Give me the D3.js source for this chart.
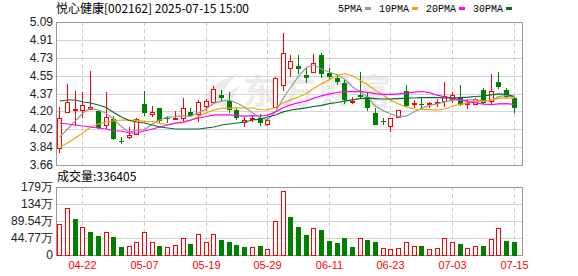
<!DOCTYPE html>
<html lang="zh">
<head>
<meta charset="UTF-8"/>
<title>悦心健康 日K线</title>
<script src="https://d3js.org/d3.v7.min.js"></script>
<style>
	body { margin:0; background:#fff; }
	svg text { font-family:"Liberation Sans", Arial, sans-serif; }
</style>
</head>
<body>
<script>
// ---------------- data ----------------
var dates = ["04-17","04-18","04-21","04-22","04-23","04-24","04-25","04-28","04-29","04-30",
	"05-06","05-07","05-08","05-09","05-12","05-13","05-14","05-15","05-16","05-19",
	"05-20","05-21","05-22","05-23","05-26","05-27","05-28","05-29","05-30","06-03",
	"06-04","06-05","06-06","06-09","06-10","06-11","06-12","06-13","06-16","06-17",
	"06-18","06-19","06-20","06-23","06-24","06-25","06-26","06-27","06-30","07-01",
	"07-02","07-03","07-04","07-07","07-08","07-09","07-10","07-11","07-14","07-15"];

var opens = [3.83,4.19,4.21,4.21,4.22,4.20,4.06,4.12,3.90,3.94,
	3.97,4.27,4.17,4.23,4.13,4.12,4.13,4.19,4.17,4.25,
	4.29,4.36,4.30,4.21,4.09,4.12,4.13,4.07,4.24,4.46,
	4.63,4.65,4.56,4.59,4.76,4.58,4.53,4.48,4.29,4.36,
	4.34,4.18,4.10,4.05,4.14,4.40,4.27,4.27,4.27,4.28,
	4.30,4.32,4.34,4.27,4.27,4.41,4.30,4.49,4.41,4.33];
var highs = [4.24,4.47,4.40,4.39,4.60,4.21,4.39,4.15,3.94,4.04,
	4.13,4.40,4.25,4.23,4.15,4.20,4.33,4.23,4.31,4.32,
	4.45,4.41,4.39,4.23,4.14,4.16,4.17,4.13,4.54,4.98,
	4.76,4.76,4.64,4.77,4.78,4.63,4.57,4.51,4.34,4.59,
	4.39,4.23,4.13,4.13,4.21,4.46,4.31,4.33,4.29,4.32,
	4.49,4.39,4.46,4.32,4.33,4.43,4.57,4.59,4.43,4.34];
var lows = [3.78,4.19,4.05,4.13,4.22,4.02,4.02,3.91,3.87,3.92,
	3.96,4.15,4.14,4.08,4.08,4.11,4.09,4.14,4.09,4.20,
	4.29,4.29,4.18,4.11,4.04,4.09,4.05,4.05,4.24,4.40,
	4.54,4.57,4.48,4.59,4.53,4.51,4.46,4.27,4.27,4.32,
	4.20,4.06,4.06,3.99,4.14,4.24,4.23,4.22,4.23,4.24,
	4.24,4.28,4.25,4.22,4.26,4.27,4.27,4.42,4.33,4.18];
var closes = [4.13,4.29,4.22,4.26,4.24,4.03,4.14,3.92,3.89,3.96,
	4.12,4.18,4.19,4.10,4.12,4.13,4.23,4.15,4.29,4.30,
	4.42,4.33,4.21,4.13,4.11,4.13,4.08,4.11,4.53,4.78,
	4.70,4.62,4.53,4.68,4.57,4.54,4.49,4.31,4.30,4.34,
	4.23,4.06,4.09,4.13,4.21,4.25,4.28,4.26,4.28,4.29,
	4.35,4.36,4.26,4.28,4.32,4.28,4.40,4.44,4.34,4.23];

// volume in 万手
var volumes = [80.8,122.9,94.8,72.9,60.6,50.0,59.7,47.4,21.1,23.7,
	33.4,59.7,33.4,23.7,20.2,25.5,43.9,29.0,54.4,33.4,
	54.4,39.5,34.2,26.3,21.9,20.2,23.7,14.9,88.7,167.7,
	100.0,73.7,52.7,71.1,65.8,36.9,31.6,44.8,21.9,43.9,
	39.5,34.2,17.6,15.8,17.6,33.4,23.7,23.7,14.9,17.6,
	43.9,33.4,29.0,17.6,23.7,23.7,41.3,70.2,36.9,33.6405];

var ma5 = [3.94,4.02,4.10,4.18,4.228,4.208,4.178,4.118,4.044,3.988,
	4.006,4.014,4.068,4.110,4.142,4.144,4.154,4.146,4.184,4.220,
	4.278,4.298,4.310,4.278,4.240,4.182,4.132,4.112,4.192,4.326,
	4.440,4.548,4.632,4.662,4.620,4.588,4.562,4.518,4.442,4.396,
	4.334,4.248,4.204,4.170,4.144,4.148,4.192,4.226,4.256,4.272,
	4.292,4.308,4.308,4.308,4.314,4.300,4.308,4.344,4.356,4.338];
var ma10 = [3.84,3.88,3.93,3.98,4.04,4.07,4.09,4.10,4.11,4.108,
	4.107,4.096,4.093,4.077,4.065,4.075,4.084,4.107,4.147,4.181,
	4.211,4.226,4.228,4.231,4.230,4.230,4.215,4.211,4.235,4.283,
	4.311,4.340,4.372,4.427,4.473,4.514,4.555,4.575,4.552,4.508,
	4.461,4.405,4.361,4.306,4.270,4.241,4.220,4.215,4.213,4.208,
	4.220,4.250,4.267,4.282,4.293,4.296,4.308,4.326,4.332,4.326];
var ma20 = [4.08,4.07,4.06,4.05,4.04,4.03,4.02,4.00,4.00,3.98,
	3.98,4.00,4.02,4.04,4.06,4.08,4.09,4.11,4.13,4.145,
	4.159,4.161,4.161,4.154,4.148,4.153,4.150,4.159,4.191,4.232,
	4.261,4.283,4.300,4.329,4.352,4.372,4.385,4.393,4.394,4.396,
	4.386,4.373,4.367,4.367,4.372,4.378,4.388,4.395,4.383,4.358,
	4.341,4.328,4.314,4.294,4.282,4.269,4.264,4.271,4.273,4.267];
var ma30 = [4.30,4.31,4.31,4.29,4.28,4.26,4.235,4.185,4.14,4.105,
	4.09,4.08,4.06,4.04,4.03,4.02,4.02,4.02,4.02,4.03,
	4.04,4.06,4.07,4.08,4.09,4.11,4.12,4.14,4.16,4.191,
	4.210,4.221,4.231,4.245,4.256,4.273,4.285,4.298,4.311,4.324,
	4.328,4.324,4.320,4.321,4.324,4.328,4.330,4.334,4.333,4.333,
	4.331,4.332,4.333,4.338,4.345,4.350,4.361,4.372,4.366,4.347];

var priceLabels = ["3.66","3.84","4.02","4.20","4.37","4.55","4.73","4.91","5.09"];
var volLabels = ["0","44.77万","89.54万","134万","179万"];
var dateTicks = ["04-22","05-07","05-19","05-29","06-11","06-23","07-03","07-15"];
var maNames = ["5PMA","10PMA","20PMA","30PMA"];

var priceMin = 3.66, priceMax = 5.09, volMax = 179.08;

// ---------------- layout ----------------
var w = 578, h = 276;
var left = 56, right = 522;
var pTop = 22, pBottom = 165;
var vTop = 187, vBottom = 255;

var red = "#ff0000", green = "#008000";
var maColors = ["#999999","#f5a300","#ff00ff","#0b6b2e"];

var svg = d3.select("body").append("svg")
	.attr("width", w)
	.attr("height", h);

var xScale = d3.scaleBand()
	.domain(d3.range(dates.length))
	.range([56, 518]);

var yScale = d3.scaleLinear().domain([priceMin, priceMax]).range([pBottom, pTop]);
var vScale = d3.scaleLinear().domain([0, volMax]).range([vBottom, vTop]);

function cx(i) { return Math.round(xScale(i) + xScale.bandwidth() / 2 - 0.5); }
function py(v) { return Math.round(yScale(v)); }

// ---------------- watermark ----------------
var wm = svg.append("g").attr("fill", "#ebebeb");
wm.append("path")
	.attr("d", "M203,108 C206,92 216,80 238,74 C226,84 222,92 224,100 C229,92 234,88 240,86 C232,96 230,104 231,110 C222,104 214,104 203,108 Z");
wm.append("text")
	.attr("x", 243).attr("y", 104)
	.attr("font-size", 34).attr("font-weight", "bold")
	.attr("letter-spacing", 4)
	.style("font-family", "'Noto Sans CJK SC', sans-serif")
	.text("东方财富");

// ---------------- grid ----------------
function panelGrid(top, bottom, n) {
	var g = svg.append("g").attr("shape-rendering", "crispEdges");
	d3.range(1, n).forEach(function (k) {
		var y = Math.round(top + (bottom - top) * k / n) + 0.5;
		g.append("line").attr("x1", left).attr("x2", right)
			.attr("y1", y).attr("y2", y)
			.attr("stroke", "#d4d4d4");
	});
	dateTicks.forEach(function (d) {
		var x = cx(dates.indexOf(d)) + 0.5;
		g.append("line").attr("x1", x).attr("x2", x)
			.attr("y1", top).attr("y2", bottom)
			.attr("stroke", "#cccccc")
			.attr("stroke-dasharray", "4,3");
	});
	g.append("rect")
		.attr("x", left + 0.5).attr("y", top + 0.5)
		.attr("width", right - left).attr("height", bottom - top)
		.attr("fill", "none").attr("stroke", "#999999");
}
panelGrid(pTop, pBottom, 8);
panelGrid(vTop, vBottom, 4);

// ---------------- axis labels ----------------
svg.selectAll("text.plab")
	.data(priceLabels)
	.enter().append("text")
	.attr("class", "plab")
	.attr("x", 53)
	.attr("y", function (d, i) { return pBottom - (pBottom - pTop) * i / 8 + 4; })
	.attr("text-anchor", "end")
	.attr("font-size", 12)
	.attr("fill", "#222")
	.text(function (d) { return d; });

svg.selectAll("text.vlab")
	.data(volLabels)
	.enter().append("text")
	.attr("class", "vlab")
	.attr("x", 53)
	.attr("y", function (d, i) { return vBottom - (vBottom - vTop) * i / 4 + 4; })
	.attr("text-anchor", "end")
	.attr("font-size", 12)
	.attr("fill", "#222")
	.text(function (d) { return d; });

svg.selectAll("text.dlab")
	.data(dateTicks)
	.enter().append("text")
	.attr("class", "dlab")
	.attr("x", function (d) { return cx(dates.indexOf(d)) + 0.5; })
	.attr("y", 269)
	.attr("text-anchor", "middle")
	.attr("font-size", 11)
	.attr("fill", red)
	.text(function (d) { return d; });

// ---------------- title + legend ----------------
svg.append("text")
	.attr("x", 56).attr("y", 13)
	.attr("font-size", 12)
	.attr("fill", "#000")
	.style("font-family", "'Noto Sans CJK SC', sans-serif")
	.text("悦心健康[002162] 2025-07-15 15:00");

var lx = 338;
maNames.forEach(function (name, k) {
	svg.append("text")
		.attr("x", lx).attr("y", 12)
		.attr("font-size", 10)
		.attr("fill", "#000")
		.style("font-family", "'Liberation Mono', monospace")
		.text(name);
	lx += name.length * 6 + 3;
	svg.append("rect")
		.attr("x", lx).attr("y", 7)
		.attr("width", 6).attr("height", 3)
		.attr("fill", maColors[k]);
	lx += 6 + 8;
});

svg.append("text")
	.attr("x", 57).attr("y", 181)
	.attr("font-size", 12)
	.attr("fill", "#000")
	.style("font-family", "'Noto Sans CJK SC', sans-serif")
	.text("成交量:" + Math.round(volumes[volumes.length - 1] * 10000));

// ---------------- candles ----------------
var candles = svg.append("g").attr("shape-rendering", "crispEdges");
dates.forEach(function (d, i) {
	var up = closes[i] >= opens[i];
	var col = up ? red : green;
	var x = cx(i);
	var yH = py(highs[i]), yL = py(lows[i]);
	var yT = py(Math.max(opens[i], closes[i])), yB = py(Math.min(opens[i], closes[i]));
	candles.append("line")
		.attr("x1", x + 0.5).attr("x2", x + 0.5)
		.attr("y1", yH).attr("y2", yL)
		.attr("stroke", col);
	if (up) {
		candles.append("rect")
			.attr("x", x - 1.5).attr("y", yT + 0.5)
			.attr("width", 4).attr("height", Math.max(1, yB - yT))
			.attr("fill", "#fff").attr("stroke", col);
	} else {
		candles.append("rect")
			.attr("x", x - 2).attr("y", yT)
			.attr("width", 5).attr("height", Math.max(1, yB - yT))
			.attr("fill", col);
	}
});

// ---------------- moving averages ----------------
var line = d3.line()
	.x(function (d, i) { return xScale(i) + xScale.bandwidth() / 2; })
	.y(function (d) { return yScale(d); });

[ma5, ma10, ma20, ma30].forEach(function (s, k) {
	svg.append("path")
		.datum(s)
		.attr("d", line)
		.attr("fill", "none")
		.attr("stroke", maColors[k])
		.attr("stroke-width", 1.2);
});

// ---------------- volume bars ----------------
var vol = svg.append("g").attr("shape-rendering", "crispEdges");
volumes.forEach(function (v, i) {
	var up = i === 0 ? closes[i] >= opens[i] : closes[i] >= closes[i - 1];
	var x = cx(i);
	var yT = Math.round(vScale(v));
	if (up) {
		vol.append("rect")
			.attr("x", x - 1.5).attr("y", yT + 0.5)
			.attr("width", 4).attr("height", vBottom - yT)
			.attr("fill", "#fff").attr("stroke", red);
	} else {
		vol.append("rect")
			.attr("x", x - 2).attr("y", yT)
			.attr("width", 5).attr("height", vBottom - yT + 1)
			.attr("fill", green);
	}
});
</script>
</body>
</html>
